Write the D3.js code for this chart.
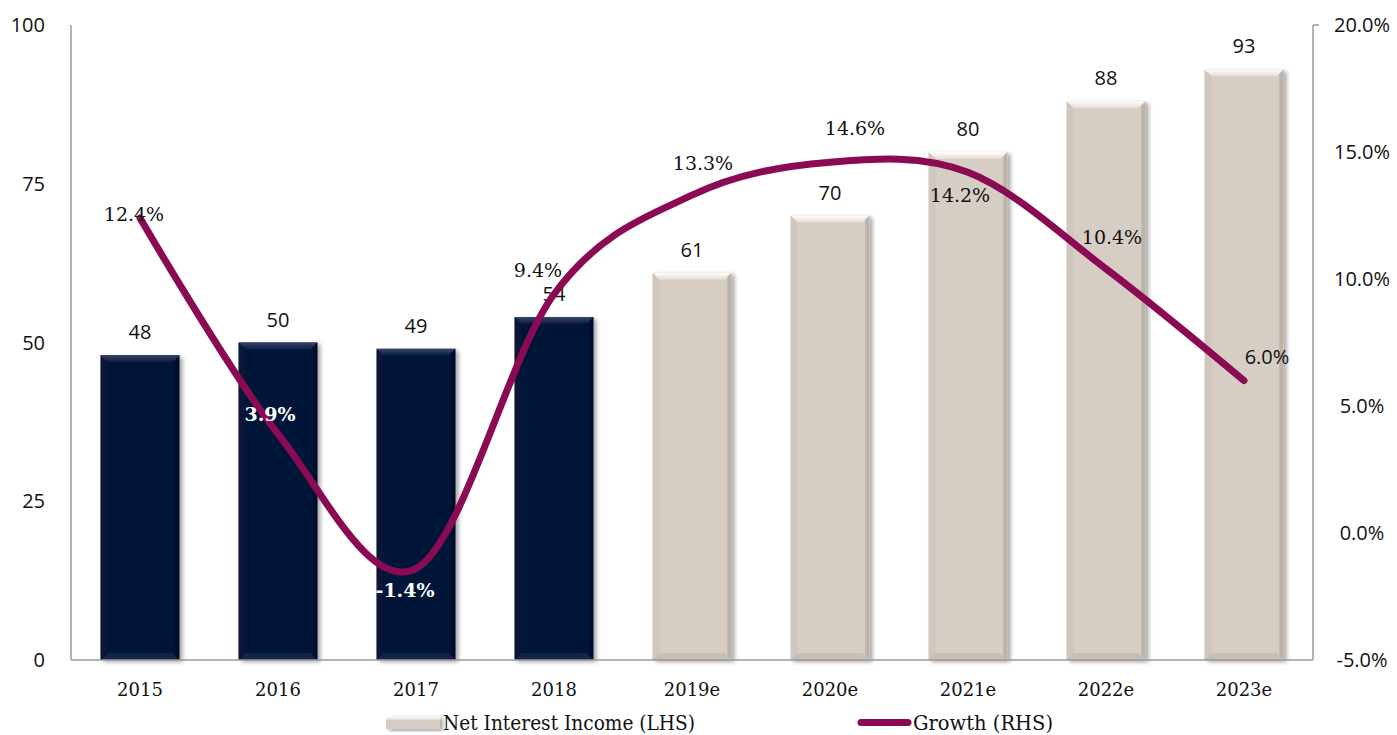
<!DOCTYPE html>
<html>
<head>
<meta charset="utf-8">
<script src="https://cdn.jsdelivr.net/npm/d3@7"></script>
<style>
  html, body { margin: 0; padding: 0; background: #fff; }
  svg { display: block; }
</style>
</head>
<body>
<svg id="chart" width="1397" height="735"></svg>
<script>
// Net interest income (LHS) with yearly growth (RHS)
const years = ["2015", "2016", "2017", "2018", "2019e", "2020e", "2021e", "2022e", "2023e"];
const netInterestIncome = [48, 50, 49, 54, 61, 70, 80, 88, 93];
const growthPct = [12.4, 3.9, -1.4, 9.4, 13.3, 14.6, 14.2, 10.4, 6.0];
const isForecast = [false, false, false, false, true, true, true, true, true];
const leftTicks = [0, 25, 50, 75, 100];
const rightTicks = [-5, 0, 5, 10, 15, 20];

// label placement for the growth series (dx, dy from point; font; colour)
const growthLabelStyle = [
  { dx: -6, dy: 3, font: "serif", color: "#111", weight: 400 },
  { dx: -8, dy: -13, font: "serif", color: "#fff", weight: 700 },
  { dx: -11, dy: 28, font: "serif", color: "#fff", weight: 700 },
  { dx: -16, dy: -17, font: "serif", color: "#111", weight: 400 },
  { dx: 11, dy: -25, font: "serif", color: "#111", weight: 400 },
  { dx: 25, dy: -27, font: "serif", color: "#111", weight: 400 },
  { dx: -8, dy: 30, font: "serif", color: "#111", weight: 400 },
  { dx: 6, dy: -25, font: "serif", color: "#111", weight: 400 },
  { dx: 23, dy: -17, font: "sans", color: "#111", weight: 400 }
];

const SANS = "'Open Sans', 'Noto Sans', sans-serif";
const SERIF = "'DejaVu Serif', 'Liberation Serif', serif";
const SERIF_C = "'DejaVu Serif Condensed', 'Liberation Serif', serif";

const svg = d3.select("#chart");
const m = { left: 71, right: 1313, top: 25, bottom: 660 };

const x = d3.scaleBand().domain(years).range([m.left, m.right]).paddingInner(0.43).paddingOuter(0.215);
const yL = d3.scaleLinear().domain([0, 100]).range([m.bottom, m.top]);
const yR = d3.scaleLinear().domain([-5, 20]).range([m.bottom, m.top]);

const defs = svg.append("defs");
const shadow = defs.append("filter").attr("id", "shadow").attr("x", "-20%").attr("y", "-20%").attr("width", "140%").attr("height", "140%");
shadow.append("feGaussianBlur").attr("in", "SourceAlpha").attr("stdDeviation", 2);
shadow.append("feOffset").attr("dx", 3).attr("dy", 2).attr("result", "b");
shadow.append("feComponentTransfer").append("feFuncA").attr("type", "linear").attr("slope", 0.35);
const mg = shadow.append("feMerge");
mg.append("feMergeNode");
mg.append("feMergeNode").attr("in", "SourceGraphic");

function grad(id, c1, c2) {
  const g = defs.append("linearGradient").attr("id", id).attr("x1", 0).attr("y1", 0).attr("x2", 0).attr("y2", 1);
  g.append("stop").attr("offset", 0).attr("stop-color", c1);
  g.append("stop").attr("offset", 1).attr("stop-color", c2);
}
grad("topLight", "#ffffff", "#e4dbd3");
grad("topDark", "#34446a", "#0c1a40");

const palette = {
  light: { fill: "#d6cdc4", top: "url(#topLight)", side: "#d0c6bd", right: "#bdb2a8", bottom: "#c9beb4" },
  dark: { fill: "#061537", top: "url(#topDark)", side: "#071638", right: "#040e2a", bottom: "#14234a" }
};

// axes lines
const axisColor = "#9a9a9a";
svg.append("line").attr("x1", m.left).attr("x2", m.left).attr("y1", m.top).attr("y2", m.bottom)
  .attr("stroke", axisColor).attr("stroke-width", 1.5);
svg.append("line").attr("x1", m.right).attr("x2", m.right).attr("y1", m.top).attr("y2", m.bottom)
  .attr("stroke", axisColor).attr("stroke-width", 1.5);
svg.append("line").attr("x1", m.right).attr("x2", m.right + 6).attr("y1", m.top).attr("y2", m.top)
  .attr("stroke", axisColor).attr("stroke-width", 1.5);

// bars with bevelled edges
const bev = 7;
const bars = svg.append("g").selectAll("g").data(years).join("g").attr("filter", "url(#shadow)");
bars.each(function (d, i) {
  const g = d3.select(this);
  const p = isForecast[i] ? palette.light : palette.dark;
  const x0 = x(d), x1 = x(d) + x.bandwidth();
  const y0 = yL(netInterestIncome[i]), y1 = yL(0);
  g.append("rect").attr("x", x0).attr("y", y0).attr("width", x1 - x0).attr("height", y1 - y0).attr("fill", p.fill);
  g.append("polygon").attr("points", [[x0, y0], [x0 + bev, y0 + bev], [x0 + bev, y1 - bev], [x0, y1]].join(" ")).attr("fill", p.side);
  g.append("polygon").attr("points", [[x1, y0], [x1 - 4, y0 + 4], [x1 - 4, y1 - 4], [x1, y1]].join(" ")).attr("fill", p.right);
  g.append("polygon").attr("points", [[x0, y1], [x0 + bev, y1 - bev], [x1 - bev, y1 - bev], [x1, y1]].join(" ")).attr("fill", p.bottom);
  g.append("polygon").attr("points", [[x0, y0], [x1, y0], [x1 - bev, y0 + bev], [x0 + bev, y0 + bev]].join(" ")).attr("fill", p.top);
});

// x axis baseline
svg.append("line").attr("x1", m.left).attr("x2", m.right).attr("y1", m.bottom).attr("y2", m.bottom)
  .attr("stroke", axisColor).attr("stroke-width", 1.5);

// bar value labels
svg.append("g").selectAll("text").data(years).join("text")
  .attr("x", d => x(d) + x.bandwidth() / 2)
  .attr("y", (d, i) => yL(netInterestIncome[i]) - 16)
  .attr("text-anchor", "middle")
  .attr("font-family", SANS).attr("font-size", 20).attr("fill", "#111")
  .text((d, i) => netInterestIncome[i]);

// growth line
const pts = years.map((d, i) => [x(d) + x.bandwidth() / 2, yR(growthPct[i])]);
svg.append("path")
  .attr("d", d3.line().curve(d3.curveCardinal.tension(0))(pts))
  .attr("fill", "none").attr("stroke", "#8a0b53").attr("stroke-width", 7).attr("stroke-linecap", "round");

// growth labels
svg.append("g").selectAll("text").data(years).join("text")
  .attr("x", (d, i) => pts[i][0] + growthLabelStyle[i].dx)
  .attr("y", (d, i) => pts[i][1] + growthLabelStyle[i].dy)
  .attr("text-anchor", "middle")
  .attr("font-family", (d, i) => growthLabelStyle[i].font === "sans" ? SANS : SERIF)
  .attr("font-size", (d, i) => growthLabelStyle[i].font === "sans" ? 20 : 19)
  .attr("font-weight", (d, i) => growthLabelStyle[i].weight)
  .attr("fill", (d, i) => growthLabelStyle[i].color)
  .text((d, i) => growthPct[i].toFixed(1) + "%");

// left axis labels
svg.append("g").selectAll("text").data(leftTicks).join("text")
  .attr("x", 45).attr("y", d => yL(d)).attr("dy", "0.35em")
  .attr("text-anchor", "end")
  .attr("font-family", SANS).attr("font-size", 20).attr("fill", "#111")
  .text(d => d);

// right axis labels
svg.append("g").selectAll("text").data(rightTicks).join("text")
  .attr("x", 1362).attr("y", d => yR(d)).attr("dy", "0.35em")
  .attr("text-anchor", "middle")
  .attr("font-family", SANS).attr("font-size", 20).attr("fill", "#111")
  .text(d => d.toFixed(1) + "%");

// category labels
svg.append("g").selectAll("text").data(years).join("text")
  .attr("x", d => x(d) + x.bandwidth() / 2).attr("y", 696)
  .attr("text-anchor", "middle")
  .attr("font-family", SERIF).attr("font-size", 18).attr("fill", "#111")
  .text(d => d);

// legend
const lg = svg.append("g");
const sw = lg.append("g").attr("filter", "url(#shadow)");
sw.append("rect").attr("x", 386).attr("y", 716).attr("width", 54).attr("height", 13).attr("fill", palette.light.fill);
sw.append("rect").attr("x", 386).attr("y", 716).attr("width", 54).attr("height", 4).attr("fill", "url(#topLight)");
lg.append("text").attr("x", 443).attr("y", 730)
  .attr("font-family", SERIF_C).attr("font-size", 21).attr("fill", "#111")
  .attr("textLength", 252).attr("lengthAdjust", "spacingAndGlyphs")
  .text("Net Interest Income (LHS)");
lg.append("line").attr("x1", 861).attr("x2", 908).attr("y1", 722.5).attr("y2", 722.5)
  .attr("stroke", "#8a0b53").attr("stroke-width", 7).attr("stroke-linecap", "round");
lg.append("text").attr("x", 913).attr("y", 730)
  .attr("font-family", SERIF_C).attr("font-size", 21).attr("fill", "#111")
  .attr("textLength", 140).attr("lengthAdjust", "spacingAndGlyphs")
  .text("Growth (RHS)");
</script>
</body>
</html>
